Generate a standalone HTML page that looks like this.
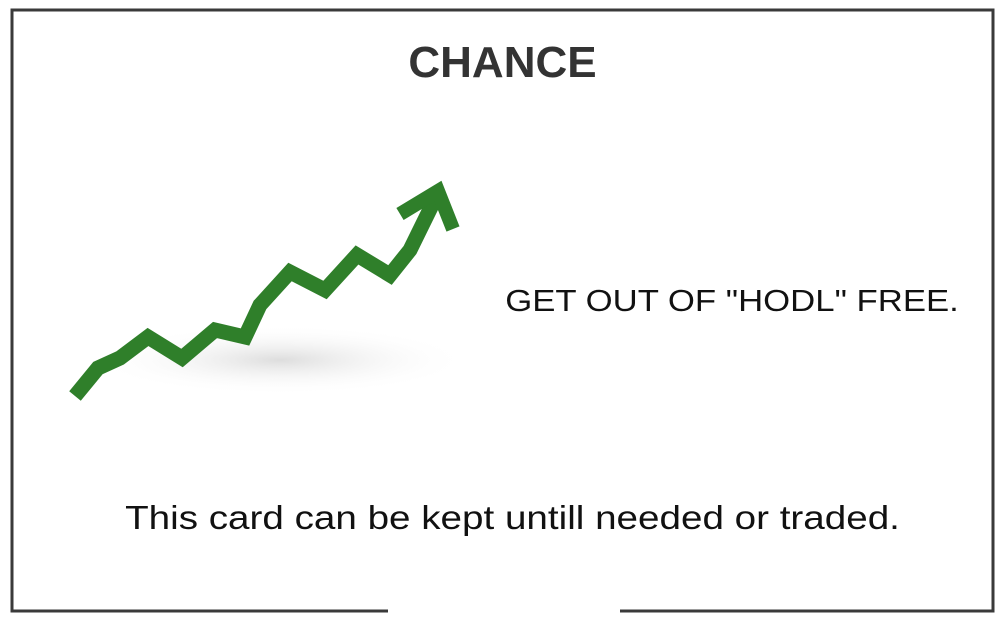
<!DOCTYPE html>
<html><head><meta charset="utf-8"><style>
body{margin:0;background:#fff;width:1005px;height:620px;overflow:hidden;position:relative;font-family:"Liberation Sans",sans-serif}
.t{position:absolute;white-space:nowrap;color:#111}
</style></head><body>
<svg width="1005" height="620" style="position:absolute;left:0;top:0">
<defs><radialGradient id="sh" cx="0.5" cy="0.5" r="0.5"><stop offset="0" stop-color="#ddd"/><stop offset="1" stop-color="#fff" stop-opacity="0"/></radialGradient></defs>
<polyline points="388,611 12,611 12,10 993,10 993,611 620,611" fill="none" stroke="#3a3a3a" stroke-width="3"/>
<ellipse cx="280" cy="360" rx="190" ry="35" fill="url(#sh)"/>
<g id="chart"></g>
</svg>
<div class="t" style="left:0;width:1005px;text-align:center;top:38px;font-size:44px;font-weight:bold;color:#333;">CHANCE</div>
<div class="t" style="left:506px;top:283px;font-size:31px;width:452px;text-align:center;transform:scaleX(1.12)">GET OUT OF "HODL" FREE.</div>
<div class="t" style="left:125px;top:499px;font-size:33px;width:775px;text-align:center;transform:scaleX(1.17)">This card can be kept untill needed or traded.</div>
<script>
const xs=[75,98,120,148,182,215,245,260,290,325,357,390,410,437];
const ys=[396,368,358,337,358,330,337,305,272,290,255,275,250,195];
const g=document.getElementById('chart');
const ns='http://www.w3.org/2000/svg';
const pl=document.createElementNS(ns,'polyline');


pl.setAttribute('points',xs.map((x,i)=>x+','+ys[i]).join(' '));
pl.setAttribute('fill','none');pl.setAttribute('stroke','#2f7f2a');pl.setAttribute('stroke-width','15');pl.setAttribute('stroke-linejoin','miter');
g.appendChild(pl);
const hd=document.createElementNS(ns,'polyline');


hd.setAttribute('points','400,214 438,191 453,229');
hd.setAttribute('fill','none');hd.setAttribute('stroke','#2f7f2a');hd.setAttribute('stroke-width','14');
g.appendChild(hd);
</script>
</body></html>
